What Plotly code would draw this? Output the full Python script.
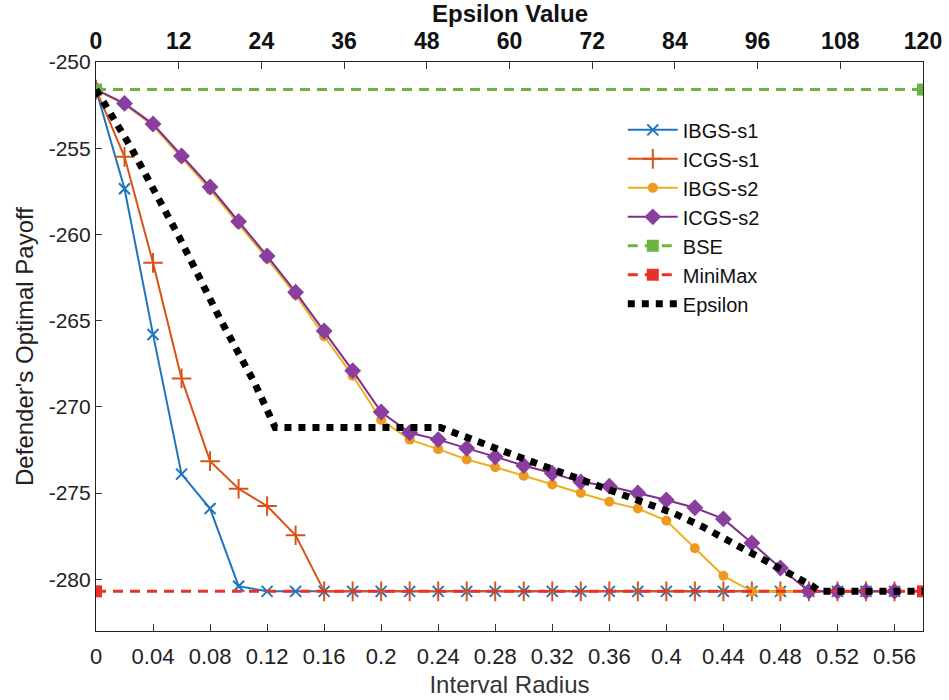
import plotly.graph_objects as go

# Interval radius grid (bottom axis)
radius = [0.00, 0.02, 0.04, 0.06, 0.08, 0.10, 0.12, 0.14, 0.16, 0.18,
          0.20, 0.22, 0.24, 0.26, 0.28, 0.30, 0.32, 0.34, 0.36, 0.38,
          0.40, 0.42, 0.44, 0.46, 0.48, 0.50, 0.52, 0.54, 0.56]

ibgs_s1 = [-251.6, -257.35, -265.8, -273.9, -275.9, -280.4, -280.7, -280.7,
           -280.7, -280.7, -280.7, -280.7, -280.7, -280.7, -280.7, -280.7,
           -280.7, -280.7, -280.7, -280.7, -280.7, -280.7, -280.7, -280.7,
           -280.7, -280.7, -280.7, -280.7, -280.7]

icgs_s1 = [-251.6, -255.5, -261.65, -268.35, -273.15, -274.75, -275.75, -277.45,
           -280.7, -280.7, -280.7, -280.7, -280.7, -280.7, -280.7, -280.7,
           -280.7, -280.7, -280.7, -280.7, -280.7, -280.7, -280.7, -280.7,
           -280.7, -280.7, -280.7, -280.7, -280.7]

ibgs_s2 = [-251.6, -252.45, -253.7, -255.55, -257.4, -259.4, -261.4, -263.5,
           -265.9, -268.2, -270.75, -271.9, -272.45, -273.05, -273.5, -274.0,
           -274.5, -275.0, -275.5, -275.9, -276.6, -278.2, -279.8, -280.7,
           -280.7, -280.7, -280.7, -280.7, -280.7]

icgs_s2 = [-251.6, -252.4, -253.6, -255.45, -257.25, -259.25, -261.25, -263.35,
           -265.6, -267.9, -270.3, -271.5, -271.9, -272.4, -272.9, -273.4,
           -273.85, -274.35, -274.6, -275.0, -275.4, -275.85, -276.5, -277.9,
           -279.35, -280.7, -280.7, -280.7, -280.7]

# Reference payoffs, drawn across the full radius range
ref_radius = [0.0, 0.58]
bse = [-251.6, -251.6]
minimax = [-280.7, -280.7]

# Epsilon sweep (top axis)
eps_value = [0, 5, 12, 18, 23, 26, 50, 54, 58, 62, 66, 70, 74, 78, 80,
             84, 88, 92, 95, 99, 104, 105, 120]
eps_payoff = [-251.6, -254.9, -260.1, -264.9, -268.6, -271.2, -271.2, -271.85,
              -272.4, -273.0, -273.57, -274.15, -274.7, -275.25, -275.6,
              -276.2, -276.95, -277.8, -278.5, -279.36, -280.4, -280.7, -280.7]

x_ticks = [0, 0.04, 0.08, 0.12, 0.16, 0.20, 0.24, 0.28, 0.32, 0.36, 0.40,
           0.44, 0.48, 0.52, 0.56]
x_tick_text = ["0", "0.04", "0.08", "0.12", "0.16", "0.2", "0.24", "0.28",
               "0.32", "0.36", "0.4", "0.44", "0.48", "0.52", "0.56"]
eps_ticks = [0, 12, 24, 36, 48, 60, 72, 84, 96, 108, 120]
y_ticks = [-280, -275, -270, -265, -260, -255, -250]
y_tick_text = ["-280", "-275", "-270", "-265", "-260", "-255", "-250"]

FONT = "Liberation Sans, Arial, sans-serif"
NARROW = "Liberation Sans Narrow, Arial Narrow, Liberation Sans, sans-serif"

fig = go.Figure()

fig.add_trace(go.Scatter(
    x=radius, y=ibgs_s1, name="IBGS-s1", mode="lines+markers",
    line=dict(color="#1F74BF", width=2),
    marker=dict(symbol="x-thin", size=11, line=dict(color="#1F74BF", width=2)),
    legendgroup="a"))
fig.add_trace(go.Scatter(
    x=radius, y=icgs_s1, name="ICGS-s1", mode="lines+markers",
    line=dict(color="#D95319", width=2),
    marker=dict(symbol="cross-thin", size=14, line=dict(color="#D95319", width=2)),
    legendgroup="b"))
fig.add_trace(go.Scatter(
    x=radius, y=ibgs_s2, name="IBGS-s2", mode="lines+markers",
    line=dict(color="#EDB120", width=2),
    marker=dict(symbol="circle", size=10, color="#EC9A22"),
    legendgroup="c"))
fig.add_trace(go.Scatter(
    x=radius, y=icgs_s2, name="ICGS-s2", mode="lines+markers",
    line=dict(color="#7E2F8E", width=2),
    marker=dict(symbol="diamond", size=13, color="#8A3FA0"),
    legendgroup="d"))
fig.add_trace(go.Scatter(
    x=ref_radius, y=bse, name="BSE", mode="lines+markers",
    line=dict(color="#6DB33F", width=3, dash="10px,7px"),
    marker=dict(symbol="square", size=12, color="#6DB33F"),
    legendgroup="e"))
fig.add_trace(go.Scatter(
    x=ref_radius, y=minimax, name="MiniMax", mode="lines+markers",
    line=dict(color="#E8312B", width=3, dash="10px,7px"),
    marker=dict(symbol="square", size=12, color="#E8312B"),
    legendgroup="f"))
fig.add_trace(go.Scatter(
    x=eps_value, y=eps_payoff, name="Epsilon", mode="lines",
    xaxis="x2",
    line=dict(color="black", width=7, dash="7px,7px"),
    legendgroup="g"))

fig.update_layout(
    width=949, height=700,
    margin=dict(l=96, r=26, t=62, b=69),
    paper_bgcolor="white", plot_bgcolor="white",
    font=dict(family=FONT, color="#222222"),
    showlegend=True,
    legend=dict(
        x=0.637, y=0.915, xanchor="left", yanchor="top",
        bgcolor="rgba(255,255,255,0)", borderwidth=0,
        font=dict(family=FONT, size=20, color="#111111"),
        tracegroupgap=0, itemwidth=50,
    ),
    xaxis=dict(
        range=[0, 0.58], tickvals=x_ticks, ticktext=x_tick_text,
        ticks="inside", ticklen=7, tickcolor="#333333",
        showline=True, linecolor="#222222", linewidth=1.2,
        showgrid=False, zeroline=False, ticklabelstandoff=5,
        automargin=False,
        tickfont=dict(family=NARROW, size=22, color="#222222"),
        title=dict(text="Interval Radius",
                   font=dict(family=NARROW, size=24, color="#333333"),
                   standoff=8),
    ),
    xaxis2=dict(
        overlaying="x", side="top", range=[0, 120], tickvals=eps_ticks,
        ticks="inside", ticklen=7, tickcolor="#333333",
        showline=True, linecolor="#222222", linewidth=1.2,
        showgrid=False, zeroline=False, ticklabelstandoff=3,
        automargin=False,
        tickfont=dict(family=NARROW, size=23, color="#111111", weight="bold"),
    ),
    yaxis=dict(
        range=[-283, -250], tickvals=y_ticks, ticktext=y_tick_text,
        ticks="inside", ticklen=6, tickcolor="#333333",
        showline=True, linecolor="#222222", linewidth=1.2, mirror=True,
        showgrid=False, zeroline=False, automargin=False,
        tickfont=dict(family=FONT, size=21, color="#222222"),
        title=dict(text="Defender's Optimal Payoff",
                   font=dict(family=FONT, size=24, color="#222222"),
                   standoff=8),
    ),
    annotations=[dict(
        text="<b>Epsilon Value</b>", xref="paper", yref="paper",
        x=0.5, y=1.086, xanchor="center", yanchor="middle", showarrow=False,
        font=dict(family=NARROW, size=24, color="#111111"),
    )],
)

fig.write_html("out.html")
